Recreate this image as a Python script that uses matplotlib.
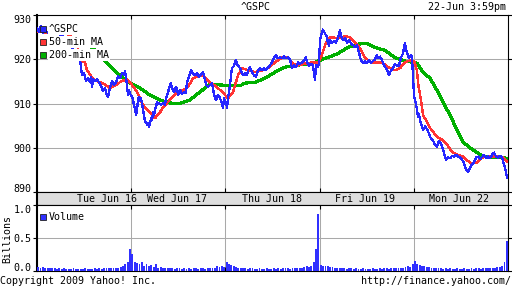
import matplotlib
matplotlib.use("Agg")
import matplotlib.pyplot as plt
from matplotlib.transforms import blended_transform_factory
import numpy as np

plt.rcParams['font.family'] = ['DejaVu Sans Mono']
plt.rcParams['font.size'] = 7.2

# ---------------- data (time in trading days since Tue Jun 16 open) ----------------
gspc_t = [0.000, 0.021, 0.042, 0.064, 0.085, 0.138, 0.191, 0.244, 0.297, 0.350, 0.403, 0.456,
          0.467, 0.478, 0.499, 0.520, 0.541, 0.563, 0.573, 0.584, 0.595, 0.616, 0.637, 0.658,
          0.679, 0.700, 0.722, 0.743, 0.754, 0.775, 0.796, 0.817, 0.839, 0.860, 0.881, 0.902,
          0.924, 0.934, 0.945, 0.955, 0.966, 0.976, 0.987,
          1.008, 1.019, 1.030, 1.040, 1.051, 1.062, 1.072, 1.083, 1.093, 1.104, 1.115, 1.125,
          1.136, 1.146, 1.157, 1.168, 1.178, 1.189, 1.200, 1.210, 1.221, 1.231, 1.242, 1.253,
          1.263, 1.274, 1.295, 1.316, 1.338, 1.359, 1.370, 1.391, 1.401, 1.422, 1.433, 1.454,
          1.476, 1.486, 1.497, 1.518, 1.539, 1.560, 1.581, 1.592, 1.613, 1.635, 1.656, 1.677,
          1.699, 1.720, 1.741, 1.762, 1.783, 1.794, 1.815, 1.837, 1.858, 1.879, 1.900, 1.921,
          1.943, 1.964, 1.975, 1.986, 1.996,
          2.007, 2.017, 2.028, 2.049, 2.060, 2.070, 2.091, 2.102, 2.113, 2.123, 2.134, 2.155,
          2.165, 2.187, 2.208, 2.229, 2.240, 2.261, 2.282, 2.303, 2.324, 2.346, 2.367, 2.389,
          2.410, 2.431, 2.452, 2.473, 2.494, 2.516, 2.537, 2.558, 2.580, 2.601, 2.622, 2.643,
          2.665, 2.686, 2.707, 2.728, 2.749, 2.771, 2.792, 2.813, 2.834, 2.856, 2.866, 2.887,
          2.909, 2.930, 2.940, 2.951, 2.962, 2.983, 2.994,
          3.004, 3.015, 3.025, 3.036, 3.047, 3.057, 3.078, 3.089, 3.100, 3.110, 3.131, 3.152,
          3.173, 3.195, 3.206, 3.216, 3.227, 3.248, 3.270, 3.291, 3.312, 3.333, 3.355, 3.376,
          3.397, 3.418, 3.429, 3.440, 3.461, 3.482, 3.503, 3.524, 3.546, 3.567, 3.588, 3.609,
          3.620, 3.641, 3.662, 3.684, 3.705, 3.726, 3.737, 3.758, 3.779, 3.800, 3.822, 3.843,
          3.864, 3.885, 3.896, 3.907, 3.917, 3.928, 3.949, 3.970, 3.981,
          4.002, 4.013, 4.024, 4.034, 4.045, 4.055, 4.066, 4.077, 4.087, 4.098, 4.119, 4.140,
          4.161, 4.172, 4.193, 4.214, 4.225, 4.246, 4.267, 4.288, 4.299, 4.320, 4.341, 4.362,
          4.384, 4.406, 4.427, 4.448, 4.469, 4.490, 4.512, 4.533, 4.554, 4.575, 4.597, 4.618,
          4.639, 4.660, 4.682, 4.703, 4.724, 4.745, 4.767, 4.788, 4.809, 4.830, 4.851, 4.873,
          4.894, 4.915, 4.936, 4.957, 4.968, 4.979, 4.989]
gspc_v = [927.0, 926.2, 927.5, 926.0, 926.4, 925.8, 926.3, 925.5, 925.0, 923.5, 921.5, 920.2,
          918.0, 916.5, 916.8, 915.2, 915.8, 914.8, 916.0, 913.7, 915.5, 915.0, 915.6, 914.8,
          914.0, 912.8, 913.5, 911.8, 911.5, 913.5, 915.0, 914.2, 914.8, 916.2, 915.8, 916.8,
          916.5, 917.4, 916.0, 914.0, 912.0, 913.0, 912.2,
          911.5, 911.0, 909.5, 908.8, 907.4, 908.5, 910.8, 911.5, 910.5, 911.2, 910.0, 908.5,
          907.4, 906.0, 905.8, 905.2, 905.6, 904.8, 905.4, 906.7, 906.2, 908.0, 907.4, 908.6,
          909.2, 910.3, 910.0, 909.7, 910.0, 909.7, 911.2, 912.4, 913.5, 914.6, 913.4, 912.6,
          913.7, 913.5, 911.9, 913.0, 912.2, 912.6, 912.4, 914.8, 916.0, 917.5, 916.8, 916.4,
          916.8, 916.0, 916.6, 917.1, 915.5, 914.2, 913.7, 914.2, 914.6, 912.0, 910.8, 912.0,
          911.2, 910.0, 909.0, 911.2, 910.5,
          910.3, 909.0, 911.2, 914.2, 916.4, 918.0, 918.5, 919.3, 919.8, 918.8, 918.6, 918.0,
          917.5, 916.4, 916.8, 916.4, 917.5, 918.2, 917.0, 916.4, 916.0, 917.5, 918.0, 917.5,
          918.0, 917.5, 918.2, 918.6, 919.3, 920.4, 920.9, 920.2, 920.4, 920.2, 920.6, 920.2,
          920.4, 920.0, 918.0, 918.6, 918.2, 919.3, 919.0, 919.3, 919.8, 920.4, 919.3, 918.6,
          919.0, 918.6, 916.8, 915.3, 918.6, 918.2, 919.3,
          924.3, 925.4, 926.0, 926.7, 926.3, 925.8, 925.0, 923.6, 923.1, 924.3, 923.8, 924.0,
          923.8, 924.7, 925.8, 926.5, 925.4, 924.3, 924.8, 923.8, 924.3, 923.6, 923.2, 922.7,
          923.1, 921.6, 920.5, 919.8, 919.1, 919.6, 919.1, 919.8, 919.2, 919.6, 920.0, 921.0,
          920.2, 920.6, 919.8, 918.6, 918.0, 917.1, 916.4, 917.5, 918.0, 918.8, 918.6, 918.6,
          920.4, 921.3, 922.7, 923.6, 922.2, 921.6, 920.2, 920.9, 920.4,
          911.8, 910.8, 909.8, 908.5, 907.0, 907.5, 906.3, 905.2, 905.0, 904.0, 904.8, 904.2,
          903.2, 902.5, 901.8, 901.3, 900.6, 900.2, 901.5, 901.0, 900.2, 898.9, 897.3, 897.8,
          897.6, 898.2, 898.0, 898.4, 898.0, 897.8, 897.3, 896.5, 895.2, 894.6, 895.5, 896.2,
          896.6, 897.8, 898.0, 897.4, 897.9, 898.4, 897.6, 898.0, 897.6, 898.4, 898.9, 898.0,
          897.8, 898.2, 897.8, 896.2, 895.5, 894.4, 893.3]

ma50_t = [0.000, 0.106, 0.350, 0.435, 0.456, 0.510, 0.531, 0.605, 0.669, 0.711, 0.775, 0.828,
          0.892, 0.955, 0.987, 1.008, 1.062, 1.125, 1.200, 1.253, 1.306, 1.338, 1.412, 1.486,
          1.550, 1.603, 1.656, 1.730, 1.783, 1.837, 1.911, 1.975, 2.028, 2.081, 2.134, 2.176,
          2.240, 2.314, 2.389, 2.452, 2.527, 2.601, 2.665, 2.718, 2.771, 2.845, 2.919, 2.983,
          3.015, 3.057, 3.089, 3.121, 3.195, 3.270, 3.323, 3.376, 3.429, 3.482, 3.546, 3.620,
          3.673, 3.726, 3.800, 3.854, 3.907, 3.970, 4.002, 4.034, 4.045, 4.066, 4.087, 4.098,
          4.140, 4.172, 4.204, 4.246, 4.299, 4.352, 4.406, 4.459, 4.522, 4.597, 4.671, 4.724,
          4.809, 4.883, 4.947, 4.989]
ma50_v = [926.3, 926.0, 925.6, 922.5, 919.8, 919.3, 917.5, 915.3, 914.8, 914.4, 913.5, 914.0,
          915.0, 915.5, 914.8, 914.2, 912.6, 909.7, 907.9, 906.7, 908.0, 909.2, 910.8, 912.6,
          913.0, 913.7, 915.7, 916.4, 916.0, 914.8, 913.7, 912.4, 911.2, 912.6, 916.4, 918.0,
          917.5, 917.1, 917.5, 918.0, 919.3, 920.4, 920.4, 919.0, 918.6, 919.0, 919.3, 919.2,
          920.4, 923.1, 924.7, 925.0, 924.7, 925.2, 925.0, 923.8, 922.5, 920.4, 919.3, 919.3,
          919.1, 918.2, 917.5, 918.0, 919.3, 919.8, 919.6, 917.5, 914.6, 912.0, 909.2, 907.4,
          905.8, 904.5, 903.6, 902.5, 901.8, 900.7, 899.1, 898.4, 898.0, 896.6, 896.6, 897.8,
          898.0, 898.0, 897.8, 896.9]

ma200_t = [0.300, 0.584, 0.690, 0.817, 0.902, 0.987, 1.093, 1.200, 1.306, 1.412, 1.518, 1.624,
           1.730, 1.837, 1.943, 2.049, 2.155, 2.208, 2.314, 2.420, 2.527, 2.633, 2.739, 2.845,
           2.951, 3.057, 3.089, 3.195, 3.301, 3.408, 3.493, 3.588, 3.694, 3.800, 3.907, 3.992,
           4.034, 4.098, 4.172, 4.246, 4.310, 4.384, 4.459, 4.522, 4.597, 4.671, 4.735, 4.809,
           4.947, 4.989]
ma200_v = [924.5, 922.7, 920.2, 917.5, 916.0, 914.6, 913.5, 911.9, 910.8, 910.1, 910.0, 910.8,
           912.6, 914.4, 914.2, 914.0, 914.0, 914.6, 914.8, 915.7, 917.1, 918.2, 918.6, 918.9,
           919.3, 920.2, 920.4, 921.3, 922.7, 923.4, 923.6, 922.7, 922.0, 920.4, 919.6, 919.3,
           919.1, 917.1, 915.7, 913.0, 910.3, 907.4, 904.0, 901.3, 900.0, 898.9, 898.0, 897.8,
           897.8, 897.5]

# volume in billions, 40 bins per trading day
vol_tue = [0.06, 0.05, 0.06, 0.05, 0.04, 0.05, 0.04, 0.04, 0.03, 0.04, 0.03, 0.04, 0.03, 0.03,
           0.03, 0.04, 0.03, 0.03, 0.03, 0.03, 0.04, 0.03, 0.03, 0.03, 0.04, 0.03, 0.04, 0.03,
           0.04, 0.04, 0.05, 0.04, 0.05, 0.04, 0.05, 0.06, 0.08, 0.10, 0.13, 0.33]
vol_wed = [0.26, 0.14, 0.12, 0.10, 0.13, 0.08, 0.10, 0.08, 0.09, 0.06, 0.10, 0.05, 0.06, 0.05,
           0.04, 0.05, 0.04, 0.04, 0.03, 0.04, 0.04, 0.03, 0.04, 0.03, 0.04, 0.03, 0.04, 0.04,
           0.03, 0.04, 0.04, 0.03, 0.04, 0.04, 0.05, 0.04, 0.07, 0.06, 0.07, 0.06]
vol_thu = [0.13, 0.10, 0.09, 0.08, 0.06, 0.05, 0.05, 0.04, 0.04, 0.03, 0.04, 0.04, 0.03, 0.03,
           0.04, 0.03, 0.03, 0.04, 0.03, 0.03, 0.04, 0.03, 0.04, 0.03, 0.04, 0.04, 0.04, 0.03,
           0.04, 0.05, 0.04, 0.05, 0.05, 0.06, 0.07, 0.06, 0.08, 0.13, 0.34, 0.87]
vol_fri = [0.09, 0.08, 0.07, 0.08, 0.06, 0.06, 0.05, 0.04, 0.05, 0.04, 0.04, 0.03, 0.04, 0.04,
           0.03, 0.04, 0.03, 0.03, 0.04, 0.03, 0.03, 0.03, 0.04, 0.03, 0.03, 0.04, 0.03, 0.04,
           0.04, 0.03, 0.04, 0.04, 0.05, 0.04, 0.05, 0.05, 0.06, 0.07, 0.06, 0.10]
vol_mon = [0.15, 0.10, 0.09, 0.08, 0.07, 0.06, 0.06, 0.05, 0.05, 0.04, 0.04, 0.04, 0.03, 0.04,
           0.03, 0.04, 0.03, 0.03, 0.04, 0.03, 0.03, 0.04, 0.03, 0.03, 0.04, 0.03, 0.04, 0.04,
           0.03, 0.04, 0.04, 0.05, 0.04, 0.05, 0.05, 0.06, 0.06, 0.07, 0.14, 0.46]

day_labels = ["Tue Jun 16", "Wed Jun 17", "Thu Jun 18", "Fri Jun 19", "Mon Jun 22"]
day_label_pos = [0.74, 1.49, 2.50, 3.48, 4.48]
day_bounds = [1, 2, 3, 4]
price_ticks = [890, 900, 910, 920, 930]
vol_ticks = [0.0, 0.5, 1.0]

BLUE = '#2626ff'
RED = '#ff3434'
GREEN = '#00b000'
GRID = '#a9a9a9'

W, H = 512, 288
fig = plt.figure(figsize=(W / 100, H / 100), dpi=100)
fig.patch.set_facecolor('white')


def px_rect(l, t, r, b):
    return [l / W, 1 - b / H, (r - l) / W, (b - t) / H]


ax = fig.add_axes(px_rect(37, 15, 508, 192))
ax_s = fig.add_axes(px_rect(37, 192, 508, 205))
ax_v = fig.add_axes(px_rect(37, 205, 508, 271))

# ---------------- main price panel ----------------
ax.set_xlim(0, 5)
ax.set_ylim(890, 930)
ax.plot(ma200_t, ma200_v, color=GREEN, lw=1.6, zorder=3, antialiased=False)
ax.plot(ma50_t, ma50_v, color=RED, lw=1.0, zorder=4, antialiased=False)
ax.plot(gspc_t, gspc_v, color=BLUE, lw=0.9, zorder=5, antialiased=False)

for y in price_ticks[1:-1]:
    ax.axhline(y, color=GRID, lw=0.75, zorder=1)
for x in day_bounds:
    ax.axvline(x, color=GRID, lw=0.75, zorder=1)

ax.set_yticks(price_ticks)
ax.set_yticklabels([str(v) for v in price_ticks])
ax.tick_params(axis='y', which='both', direction='out', length=3, width=0.8, pad=1,
               left=True, right=True, labelleft=True, labelright=False)
for lab, v in zip(ax.get_yticklabels(), price_ticks):
    if v == 930:
        lab.set_va('top')
    elif v == 890:
        lab.set_va('baseline')
ax.set_xticks(day_bounds)
ax.set_xticklabels([])
ax.tick_params(axis='x', direction='in', length=3, width=0.8, top=True, bottom=True)
for s in ax.spines.values():
    s.set_linewidth(0.8)
ax.spines['left'].set_linewidth(1.5)

# legend
leg_items = [("^GSPC", BLUE), ("50-min MA", RED), ("200-min MA", GREEN)]
leg_rows = [0.921, 0.847, 0.774]
for (lab, col), yy in zip(leg_items, leg_rows):
    ax.text(0.0255, yy, lab, transform=ax.transAxes, ha='left', va='center', zorder=10,
            bbox=dict(facecolor='white', edgecolor='none', pad=0.6))
    ax.plot([0.0127], [yy], transform=ax.transAxes, marker='s', markersize=4.6,
            markerfacecolor=col, markeredgecolor='#202020', markeredgewidth=0.6,
            linestyle='none', zorder=11, clip_on=False)

# ---------------- date strip ----------------
ax_s.set_xlim(0, 5)
ax_s.set_ylim(0, 1)
ax_s.set_facecolor('#dedede')
ax_s.set_xticks([])
ax_s.set_yticks([])
for s in ax_s.spines.values():
    s.set_linewidth(0.8)
ax_s.spines['left'].set_linewidth(1.5)
tr = blended_transform_factory(ax_s.transData, ax_s.transAxes)
for lab, pos in zip(day_labels, day_label_pos):
    ax_s.text(pos, 0.45, lab, transform=tr, ha='center', va='center')

# ---------------- volume panel ----------------
vol_all = vol_tue + vol_wed + vol_thu + vol_fri + vol_mon
n_per_day = len(vol_tue)
vol_t = [d + (i + 0.5) / n_per_day for d in range(5) for i in range(n_per_day)]
ax_v.set_xlim(0, 5)
ax_v.set_ylim(0, 1.0)
ax_v.bar(vol_t, vol_all, width=0.8 / n_per_day, color='#3030ff', linewidth=0, zorder=3)
ax_v.axhline(0.5, color=GRID, lw=0.75, zorder=1)
for x in day_bounds:
    ax_v.axvline(x, color=GRID, lw=0.75, zorder=1)
ax_v.set_yticks(vol_ticks)
ax_v.set_yticklabels(["0.0", "0.5", "1.0"])
ax_v.tick_params(axis='y', direction='out', length=3, width=0.8, pad=1,
                 left=True, right=True)
for lab, v in zip(ax_v.get_yticklabels(), vol_ticks):
    if v == 1.0:
        lab.set_va('top')
    elif v == 0.0:
        lab.set_va('baseline')
ax_v.set_xticks(day_bounds)
ax_v.set_xticklabels([])
ax_v.tick_params(axis='x', direction='in', length=3, width=0.8, top=True, bottom=True)
for s in ax_v.spines.values():
    s.set_linewidth(0.8)
ax_v.spines['left'].set_linewidth(1.5)
fig.text(7.5 / W, 1 - 239 / H, "Billions", rotation=90, ha='center', va='center')
ax_v.text(0.0255, 0.818, "Volume", transform=ax_v.transAxes, ha='left', va='center', zorder=10)
ax_v.plot([0.0127], [0.818], transform=ax_v.transAxes, marker='s', markersize=4.6,
          markerfacecolor='#3030ff', markeredgecolor='#202020', markeredgewidth=0.6,
          linestyle='none', zorder=11, clip_on=False)

# ---------------- header / footer ----------------
fig.text(256 / W, 1 - 7 / H, "^GSPC", ha='center', va='center')
fig.text(506 / W, 1 - 7 / H, "22-Jun 3:59pm", ha='right', va='center')
fig.text(0.5 / W, 1 - 281 / H, "Copyright 2009 Yahoo! Inc.", ha='left', va='center')
fig.text(511 / W, 1 - 281 / H, "http://finance.yahoo.com/", ha='right', va='center')

fig.savefig("out.png", dpi=100, facecolor='white')
